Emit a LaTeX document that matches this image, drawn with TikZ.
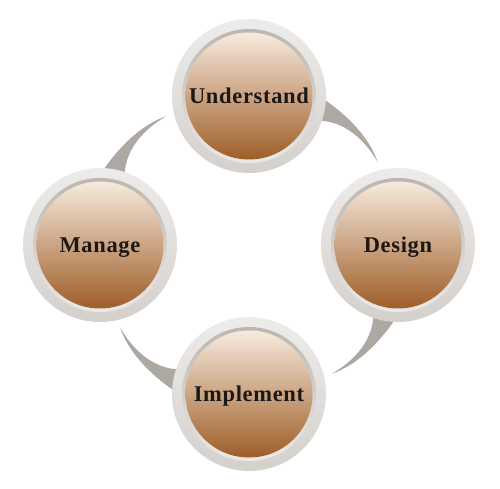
\documentclass[tikz,border=0pt]{standalone}
\usepackage{fontspec}
\usepackage{xcolor}
\usepackage{tikz}
\usetikzlibrary{positioning,calc}

\newfontfamily\stagefont[LetterSpace=3]{Liberation Serif}

\definecolor{ringlight}{RGB}{238,236,234}
\definecolor{ringshade}{RGB}{212,208,204}
\definecolor{ringinner}{RGB}{184,179,174}
\definecolor{browntop}{RGB}{247,234,221}
\definecolor{brownmid}{RGB}{216,170,126}
\definecolor{brownbot}{RGB}{158,94,40}
\definecolor{tailgray}{RGB}{174,168,162}
\definecolor{labeltext}{RGB}{28,24,22}

\begin{document}
\begin{tikzpicture}[x=1pt, y=1pt,
    stage/.style={circle, minimum size=154pt, inner sep=0pt, top color=ringlight, bottom color=ringshade,
        text=labeltext, font=\stagefont\bfseries\fontsize{22.5}{26}\selectfont, text height=14.9pt, text depth=0pt,
        path picture={
            \shade[top color=ringinner, bottom color=ringlight] (path picture bounding box.center) circle (67pt);
            \shade[top color=browntop, middle color=brownmid, bottom color=brownbot] (path picture bounding box.center) circle (63.5pt);
        }},
    tail/.style={fill=tailgray},
]
\useasboundingbox (-249,-244) rectangle (251,245);

% Tails, one per stage, pointing clockwise
\foreach \ang in {0,-90,-180,-270}
    \fill[tail, rotate=\ang] (65,152) .. controls (92,136) and (120,110) .. (128.7,82.7)
        .. controls (118,102) and (95,128) .. (62,124) -- cycle;

% Stages
\node[stage] (understand) at (0,149) {Understand};
\node[stage] (design) at (149,0) {Design};
\node[stage] (implement) at (0,-149) {Implement};
\node[stage] (manage) at (-149,0) {Manage};

\end{tikzpicture}
\end{document}
